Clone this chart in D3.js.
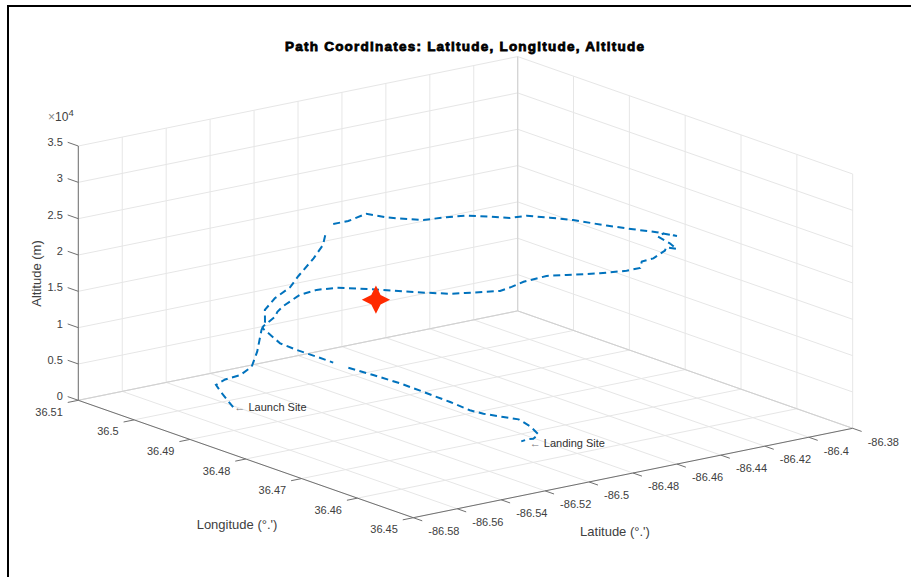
<!DOCTYPE html>
<html>
<head>
  <script src="https://d3js.org/d3.v7.min.js"></script>
  <style>
    body { margin: 0; background: #fff; }
    svg { display: block; font-family: "Liberation Sans", sans-serif; }
    .grid line { stroke: #e6e6e6; stroke-width: 1px; }
    .edge line { stroke: #d0d0d0; stroke-width: 1px; }
    .axis line { stroke: #707070; stroke-width: 1px; }
    .axis text { font-size: 11px; fill: #404040; }
    .label { font-size: 13px; fill: #404040; }
    .note { font-size: 11px; fill: #303030; }
  </style>
</head>
<body>
  <script>
    var latTicks = [-86.58, -86.56, -86.54, -86.52, -86.5, -86.48, -86.46, -86.44, -86.42, -86.4, -86.38];
    var lonTicks = [36.51, 36.5, 36.49, 36.48, 36.47, 36.46, 36.45];
    var altTicks = [0, 5000, 10000, 15000, 20000, 25000, 30000, 35000];
    var altLabels = ["0", "0.5", "1", "1.5", "2", "2.5", "3", "3.5"];

    // flight path. null = gap in the record
    var pathLat = [-86.5423, -86.5355, -86.5331, -86.5289, -86.5246, -86.5204, -86.5184, -86.5172, -86.5184, -86.5177,
      -86.5142, -86.5098, -86.5070, -86.5001, -86.4953, -86.4925, null,
      -86.4871, -86.4833, -86.4782, -86.4781, -86.4773, -86.4728, -86.4668, -86.4609, -86.4563, -86.4522,
      -86.4472, -86.4434, -86.4386, -86.4336, -86.4301, -86.4258, -86.4249, -86.4238, -86.4267, -86.4269,
      -86.4266, -86.4253, -86.4253, -86.4321, -86.4351, -86.4378, -86.4410, -86.4478, -86.4558, -86.4594,
      -86.4678, -86.4725, -86.4780, -86.4812, -86.4873, -86.4910, -86.4977, -86.5030, -86.5069, -86.5104,
      -86.5150, -86.5204, -86.5271, -86.5275, -86.5293, -86.5313, -86.5304, -86.5288, -86.5265, -86.5233,
      -86.5204, null,
      -86.5173, -86.5131, -86.5092, -86.5065, -86.5012, -86.4981, -86.4947, -86.4892, -86.4838, -86.4820,
      -86.4814, -86.4847, -86.4852, -86.4874];
    var pathLon = [36.4971, 36.5020, 36.5038, 36.5038, 36.5028, 36.5024, 36.5022, 36.5019, 36.5008, 36.5011,
      36.5007, 36.4997, 36.4993, 36.4993, 36.4995, 36.5002, null,
      36.5009, 36.4997, 36.4985, 36.4948, 36.4934, 36.4904, 36.4886, 36.4873, 36.4850, 36.4830,
      36.4819, 36.4793, 36.4770, 36.4730, 36.4696, 36.4671, 36.4638, 36.4667, 36.4665, 36.4643,
      36.4632, 36.4656, 36.4658, 36.4652, 36.4661, 36.4653, 36.4665, 36.4686, 36.4714, 36.4736,
      36.4744, 36.4747, 36.4746, 36.4757, 36.4772, 36.4784, 36.4818, 36.4857, 36.4883, 36.4911,
      36.4929, 36.4938, 36.4941, 36.4950, 36.4947, 36.4960, 36.4965, 36.4940, 36.4919, 36.4896,
      36.4878, null,
      36.4863, 36.4835, 36.4802, 36.4777, 36.4744, 36.4721, 36.4710, 36.4696, 36.4690, 36.4676,
      36.4664, 36.4660, 36.4667, 36.4671];
    var pathAlt = [200, 600, 900, 1400, 2000, 3000, 5000, 8000, 9500, 11000,
      12500, 14000, 15500, 17500, 19000, 20000, null,
      21000, 21500, 22500, 23000, 23200, 23500, 24000, 24200, 24400, 24500,
      24800, 25000, 25000, 25000, 25200, 25200, 25500, 25000, 24800, 24500,
      24000, 23500, 23000, 22500, 22000, 21500, 21000, 20500, 20000, 19500,
      19000, 18500, 18300, 18100, 17900, 17700, 17400, 17000, 16700, 16300,
      15800, 15200, 14000, 13000, 12500, 11000, 10500, 9000, 8500, 8000,
      7500, null,
      7000, 6500, 6000, 5500, 4500, 3800, 3400, 3000, 2500, 1800,
      1000, 700, 500, 200];

    var starLat = [-86.5012];
    var starLon = [36.4877];
    var starAlt = [15000];

    var width = 911;
    var height = 577;
    var svg = d3.select("body").append("svg")
        .attr("width", width)
        .attr("height", height);

    // fixed 3d view, each data axis moves the point along its own screen direction
    var originX = 413.3, originY = 517.7;
    var xLat = d3.scaleLinear().domain([-86.58, -86.38]).range([0, 439.4]);
    var yLat = d3.scaleLinear().domain([-86.58, -86.38]).range([0, -89.4]);
    var xLon = d3.scaleLinear().domain([36.45, 36.51]).range([0, -335]);
    var yLon = d3.scaleLinear().domain([36.45, 36.51]).range([0, -117.4]);
    var yAlt = d3.scaleLinear().domain([0, 35000]).range([0, -254.3]);

    function px(lat, lon) { return originX + xLat(lat) + xLon(lon); }
    function py(lat, lon, alt) { return originY + yLat(lat) + yLon(lon) + yAlt(alt); }

    var latMin = -86.58, latMax = -86.38, lonMin = 36.45, lonMax = 36.51, altMax = 35000;

    function seg(group, a, b) {
      group.append("line")
          .attr("x1", px(a[0], a[1])).attr("y1", py(a[0], a[1], a[2]))
          .attr("x2", px(b[0], b[1])).attr("y2", py(b[0], b[1], b[2]));
    }

    // grid on the floor and both back walls
    var grid = svg.append("g").attr("class", "grid");
    latTicks.forEach(function(t) {
      seg(grid, [t, lonMin, 0], [t, lonMax, 0]);
      seg(grid, [t, lonMax, 0], [t, lonMax, altMax]);
    });
    lonTicks.forEach(function(t) {
      seg(grid, [latMin, t, 0], [latMax, t, 0]);
      seg(grid, [latMax, t, 0], [latMax, t, altMax]);
    });
    altTicks.forEach(function(t) {
      seg(grid, [latMin, lonMax, t], [latMax, lonMax, t]);
      seg(grid, [latMax, lonMax, t], [latMax, lonMin, t]);
    });

    var edge = svg.append("g").attr("class", "edge");
    seg(edge, [latMin, lonMax, 0], [latMax, lonMax, 0]);
    seg(edge, [latMax, lonMax, 0], [latMax, lonMin, 0]);
    seg(edge, [latMax, lonMax, 0], [latMax, lonMax, altMax]);

    // axes and ticks
    var axis = svg.append("g").attr("class", "axis");
    seg(axis, [latMin, lonMax, 0], [latMin, lonMax, altMax]);
    seg(axis, [latMin, lonMax, 0], [latMin, lonMin, 0]);
    seg(axis, [latMin, lonMin, 0], [latMax, lonMin, 0]);

    altTicks.forEach(function(t, i) {
      seg(axis, [latMin, lonMax, t], [latMin, lonMax + 0.0019, t]);
      axis.append("text")
          .attr("x", px(latMin, lonMax) - 15.5)
          .attr("y", py(latMin, lonMax, t) - 4)
          .attr("text-anchor", "end")
          .attr("dominant-baseline", "central")
          .text(altLabels[i]);
    });
    lonTicks.forEach(function(t) {
      seg(axis, [latMin, t, 0], [latMin - 0.0048, t, 0]);
      axis.append("text")
          .attr("x", px(latMin, t) - 15.5)
          .attr("y", py(latMin, t, 0) + 11.5)
          .attr("text-anchor", "end")
          .attr("dominant-baseline", "central")
          .text(t);
    });
    latTicks.forEach(function(t) {
      seg(axis, [t, lonMin, 0], [t, lonMin - 0.0016, 0]);
      axis.append("text")
          .attr("x", px(t, lonMin) + 15)
          .attr("y", py(t, lonMin, 0) + 13.3)
          .attr("dominant-baseline", "central")
          .text(t);
    });

    // flight path
    var points = pathLat.map(function(d, i) { return [d, pathLon[i], pathAlt[i]]; });
    var line = d3.line()
        .defined(function(d) { return d[0] !== null; })
        .x(function(d) { return px(d[0], d[1]); })
        .y(function(d) { return py(d[0], d[1], d[2]); });

    svg.append("path")
        .datum(points)
        .attr("d", line)
        .attr("fill", "none")
        .attr("stroke", "#0072bd")
        .attr("stroke-width", 2)
        .attr("stroke-dasharray", "7 4.5");

    // four pointed marker
    var star4 = {
      draw: function(context, size) {
        var r = Math.sqrt(size), k = r * 0.33;
        context.moveTo(0, -r);
        context.lineTo(k, -k);
        context.lineTo(r, 0);
        context.lineTo(k, k);
        context.lineTo(0, r);
        context.lineTo(-k, k);
        context.lineTo(-r, 0);
        context.lineTo(-k, -k);
        context.closePath();
      }
    };
    svg.selectAll(".marker")
        .data(starLat)
      .enter()
        .append("path")
        .attr("class", "marker")
        .attr("d", d3.symbol().type(star4).size(200))
        .attr("fill", "#ff2a00")
        .attr("transform", function(d, i) {
          return "translate(" + px(d, starLon[i]) + "," + py(d, starLon[i], starAlt[i]) + ")";
        });

    // site notes
    function note(p, dx, dy, name) {
      var t = svg.append("text").attr("class", "note")
          .attr("x", px(p[0], p[1]) + dx)
          .attr("y", py(p[0], p[1], p[2]) + dy)
          .attr("dominant-baseline", "central");
      t.append("tspan").attr("fill", "#777").text("\u2190 ");
      t.append("tspan").text(name);
    }
    note(points[0], 1.2, 0, "Launch Site");
    note(points[points.length - 1], 8.5, 1.5, "Landing Site");

    // title and axis labels
    svg.append("text")
        .attr("x", 464.5)
        .attr("y", 46.7)
        .attr("text-anchor", "middle")
        .attr("dominant-baseline", "central")
        .attr("font-size", 13.5)
        .attr("font-weight", "bold")
        .attr("fill", "#000")
        .attr("stroke", "#000")
        .attr("stroke-width", 0.8)
        .attr("textLength", 359)
        .text("Path Coordinates: Latitude, Longitude, Altitude");

    svg.append("text").attr("class", "label")
        .attr("x", 237).attr("y", 524.3)
        .attr("text-anchor", "middle").attr("dominant-baseline", "central")
        .text("Longitude (\u00b0.')");
    svg.append("text").attr("class", "label")
        .attr("x", 615).attr("y", 531.3)
        .attr("text-anchor", "middle").attr("dominant-baseline", "central")
        .text("Latitude (\u00b0.')");
    svg.append("text").attr("class", "label")
        .attr("transform", "translate(36.5,273.5) rotate(-90)")
        .attr("text-anchor", "middle").attr("dominant-baseline", "central")
        .text("Altitude (m)");

    // axis exponent
    var exp = svg.append("text")
        .attr("x", 48).attr("y", 121)
        .attr("font-size", 12).attr("fill", "#404040");
    exp.append("tspan").attr("fill", "#888").text("\u00d7");
    exp.append("tspan").text("10");
    exp.append("tspan").attr("dy", -5).attr("font-size", 9.5).text("4");

    // figure frame, left and top only
    svg.append("path")
        .attr("d", "M8,577V6H911")
        .attr("fill", "none")
        .attr("stroke", "#000")
        .attr("stroke-width", 2);
  </script>
</body>
</html>
